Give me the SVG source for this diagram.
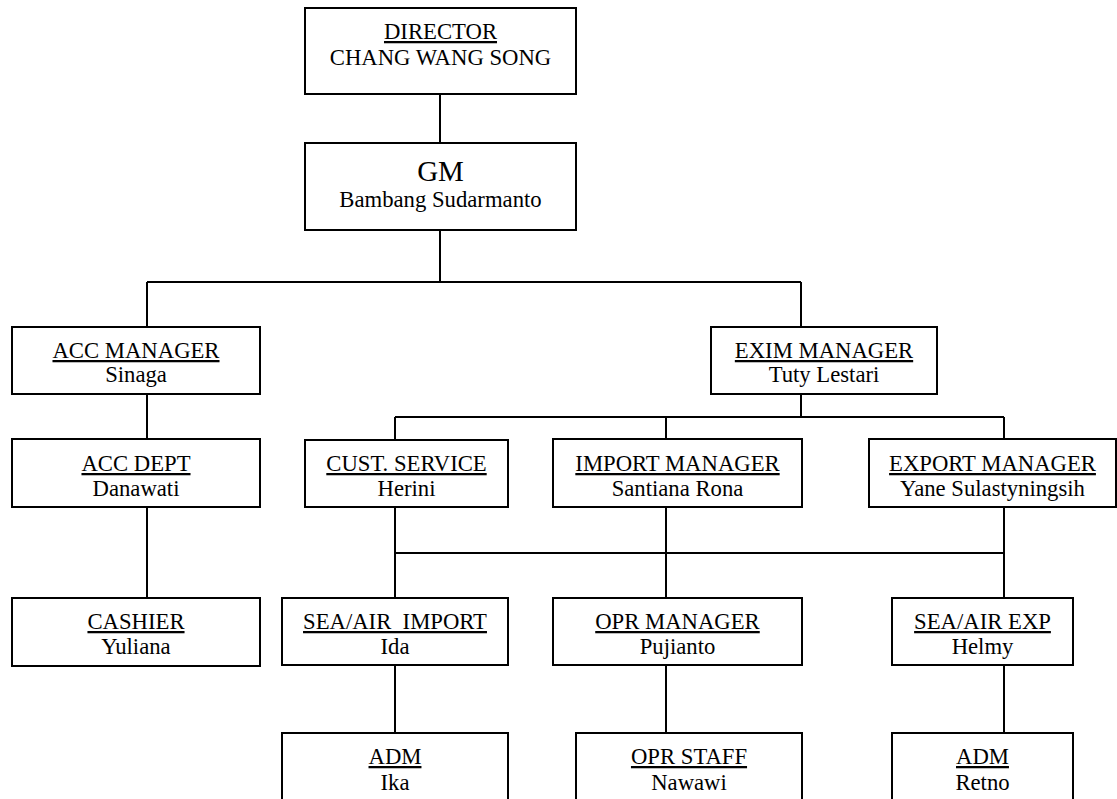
<svg xmlns="http://www.w3.org/2000/svg" width="1117" height="799" viewBox="0 0 1117 799" font-family="'Liberation Serif', 'DejaVu Serif', serif">
<style>
.box{fill:#fff;stroke:#000;stroke-width:2}
.ln{stroke:#000;stroke-width:2;fill:none}
text{font-family:'Liberation Serif','DejaVu Serif',serif;font-size:22.7px;fill:#000;text-anchor:middle}
.t{text-decoration:underline;white-space:pre}
.gm{font-size:29px}
</style>
<rect width="1117" height="799" fill="#fff"/>
<g id="connectors">
<path class="ln" d="M440 94V143M440 230V282M147 282H801M147 282V327M801 282V327M147 394V439M147 507V598M801 394V417M395 417H1004M395 417V440M666 417V439M1004 417V439M395 507V598M666 507V598M1004 507V598M395 553H1004M395 665V733M666 665V733M1004 665V733"/>
</g>
<g id="director"><rect class="box" x="305" y="8" width="271" height="86"/><text class="t" x="440.5" y="39">DIRECTOR</text><text x="440.5" y="65">CHANG WANG SONG</text></g>
<g id="gm"><rect class="box" x="305" y="143" width="271" height="87"/><text class="gm" x="440.5" y="181">GM</text><text x="440.5" y="207">Bambang Sudarmanto</text></g>
<g id="acc_manager"><rect class="box" x="12" y="327" width="248" height="67"/><text class="t" x="136" y="358">ACC MANAGER</text><text x="136" y="382">Sinaga</text></g>
<g id="exim_manager"><rect class="box" x="711" y="327" width="226" height="67"/><text class="t" x="824" y="358">EXIM MANAGER</text><text x="824" y="382">Tuty Lestari</text></g>
<g id="acc_dept"><rect class="box" x="12" y="439" width="248" height="68"/><text class="t" x="136" y="471">ACC DEPT</text><text x="136" y="496">Danawati</text></g>
<g id="cust_service"><rect class="box" x="305" y="440" width="203" height="67"/><text class="t" x="406.5" y="471">CUST. SERVICE</text><text x="406.5" y="496">Herini</text></g>
<g id="import_manager"><rect class="box" x="553" y="439" width="249" height="68"/><text class="t" x="677.5" y="471">IMPORT MANAGER</text><text x="677.5" y="496">Santiana Rona</text></g>
<g id="export_manager"><rect class="box" x="869" y="439" width="247" height="68"/><text class="t" x="992.5" y="471">EXPORT MANAGER</text><text x="992.5" y="496">Yane Sulastyningsih</text></g>
<g id="cashier"><rect class="box" x="12" y="598" width="248" height="68"/><text class="t" x="136" y="629">CASHIER</text><text x="136" y="654">Yuliana</text></g>
<g id="sea_air_import"><rect class="box" x="282" y="598" width="226" height="67"/><text class="t" x="395" y="629">SEA/AIR  IMPORT</text><text x="395" y="654">Ida</text></g>
<g id="opr_manager"><rect class="box" x="553" y="598" width="249" height="67"/><text class="t" x="677.5" y="629">OPR MANAGER</text><text x="677.5" y="654">Pujianto</text></g>
<g id="sea_air_exp"><rect class="box" x="892" y="598" width="181" height="67"/><text class="t" x="982.5" y="629">SEA/AIR EXP</text><text x="982.5" y="654">Helmy</text></g>
<g id="adm_ika"><rect class="box" x="282" y="733" width="226" height="80"/><text class="t" x="395" y="764">ADM</text><text x="395" y="790">Ika</text></g>
<g id="opr_staff"><rect class="box" x="576" y="733" width="226" height="80"/><text class="t" x="689" y="764">OPR STAFF</text><text x="689" y="790">Nawawi</text></g>
<g id="adm_retno"><rect class="box" x="892" y="733" width="181" height="80"/><text class="t" x="982.5" y="764">ADM</text><text x="982.5" y="790">Retno</text></g>
</svg>
